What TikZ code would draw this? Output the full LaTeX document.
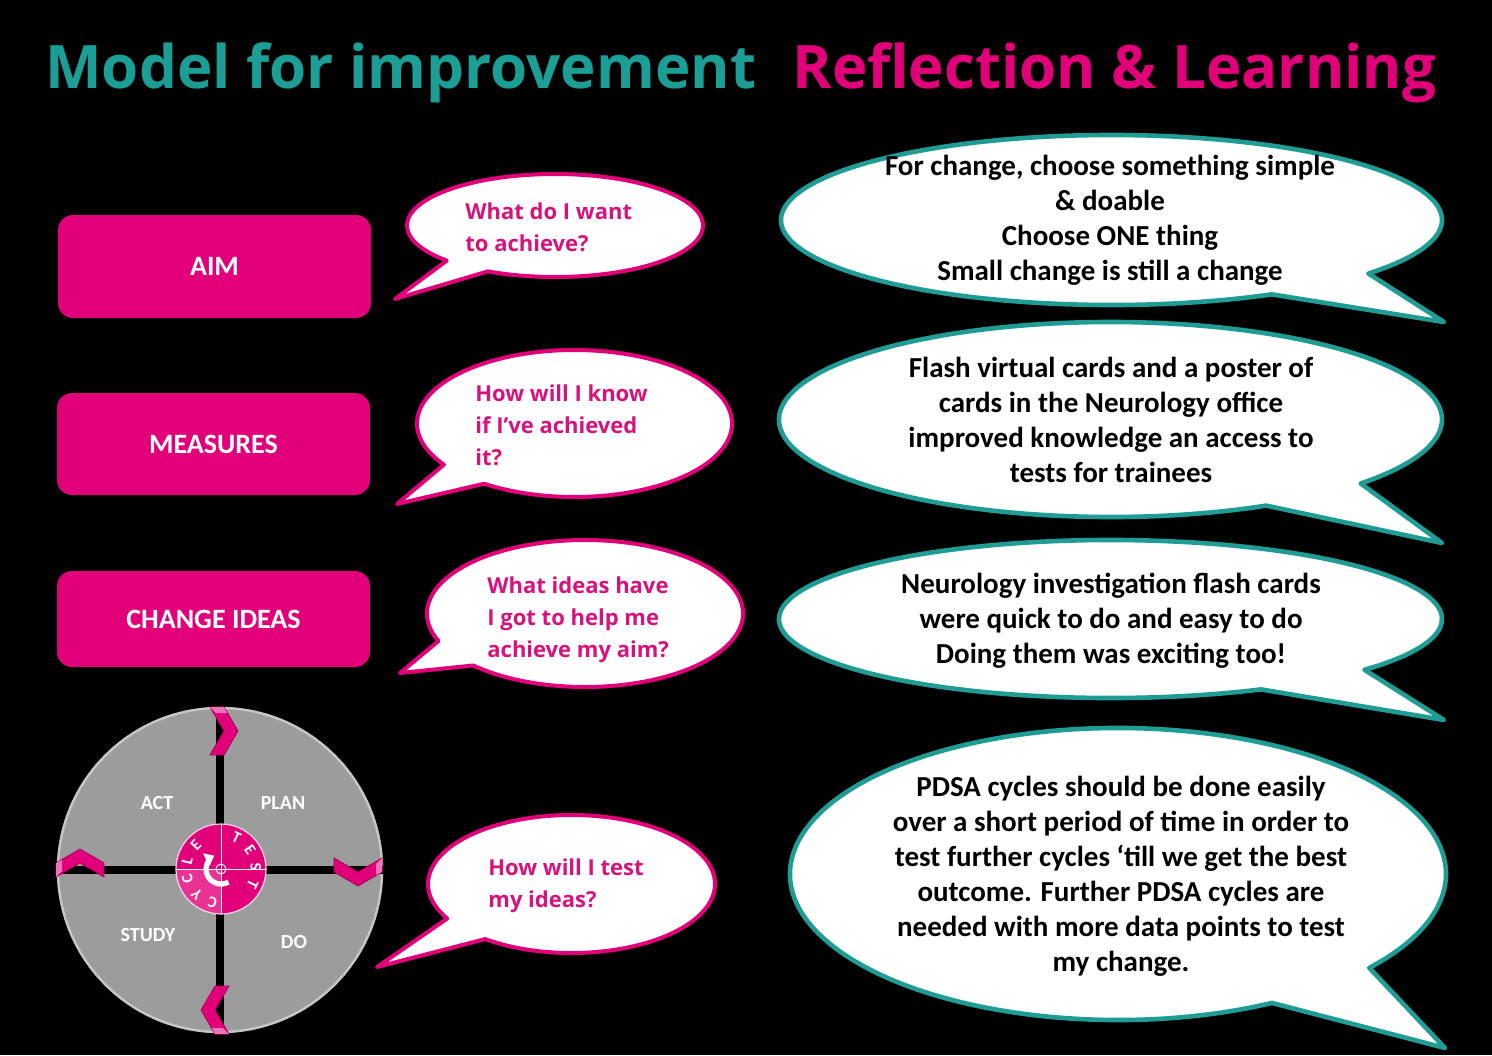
\documentclass[tikz,border=0pt]{standalone}
\usepackage{fontspec}
\setmainfont{Carlito}
\newfontfamily\titlefont{Open Sans}
\usetikzlibrary{arrows.meta}
\definecolor{pinkc}{HTML}{E2007A}
\definecolor{pinkt}{HTML}{D6137C}
\definecolor{tealc}{HTML}{1A9E96}
\definecolor{tealb}{HTML}{1F9C94}
\definecolor{wheelgray}{HTML}{9C9C9C}
\newcommand\speech[9]{\draw[#1] (#2,#3) ++(#6:#4 and #5) arc[start angle=#6, end angle=#7, x radius=#4, y radius=#5] -- (#8,#9) -- cycle;}
\newcommand\chev[3]{\begin{scope}[shift={(#1,#2)},rotate=#3]
  \fill[pinkc, draw=pinkc!75!black, line width=0.4pt] (-14,-24) -- (0,-24) -- (14,0) -- (0,24) -- (-14,24) -- (0,0) -- cycle;
  \fill[pinkc!55!white] (-14,-24) -- (0,-24) -- (3,-18) -- (-8,-18) -- cycle;
\end{scope}}
\begin{document}
\begin{tikzpicture}[x=0.5pt,y=-0.5pt,
  pinkbubble/.style={draw=pinkc, line width=2pt, fill=white, line join=round},
  tealbubble/.style={draw=tealb, line width=2.3pt, fill=white, line join=round},
  qtext/.style={anchor=base west, align=left, inner sep=0pt, text=pinkt, font=\titlefont\bfseries\fontsize{11}{16}\selectfont},
  atext/.style={anchor=center, align=center, inner sep=0pt, text=black, font=\bfseries\fontsize{14.5}{17.5}\selectfont},
  pinkbox/.style={fill=pinkc, rounded corners=7.5pt, minimum width=156.5pt, text=white, font=\bfseries\fontsize{14}{16}\selectfont},
  wlabel/.style={text=white, font=\bfseries\fontsize{10}{12}\selectfont},
  dletter/.style={text=white, inner sep=0pt, font=\bfseries\fontsize{8}{9}\selectfont}
]
\useasboundingbox (0,0) rectangle (1492,1055);
\fill[black] (0,0) rectangle (1492,1055);

% title
\node[anchor=base west, inner sep=0pt, text=tealc, font=\titlefont\bfseries\fontsize{30}{36}\selectfont] (t1) at (45,88) {Model for improvement};
\node[anchor=base west, inner sep=0pt, text=pinkc, font=\titlefont\bfseries\fontsize{30}{36}\selectfont] (t2) at (792,88) {Reflection \& Learning};

% pink boxes
\node[pinkbox, minimum height=51.5pt] (aim) at (214.5,266.5) {AIM};
\node[pinkbox, minimum height=51pt] (measures) at (213.5,444) {MEASURES};
\node[pinkbox, minimum height=48pt] (ideas) at (213.5,619) {CHANGE IDEAS};

% pink question bubbles
\speech{pinkbubble}{555}{225.5}{148}{51.5}{137}{477}{395}{299}
\speech{pinkbubble}{574.5}{423.5}{157.5}{73.5}{146}{485}{397}{504}
\speech{pinkbubble}{585}{613.5}{158}{73.5}{158}{495}{400}{673}
\speech{pinkbubble}{571.5}{884}{143.5}{69}{150}{487}{377}{967}
\node[qtext] (q1) at (465,251) {What do I want\\to achieve?};
\node[qtext] (q2) at (475,465) {How will I know\\if I’ve achieved\\it?};
\node[qtext] (q3) at (487,657) {What ideas have\\I got to help me\\achieve my aim?};
\node[qtext] (q4) at (488,907) {How will I test\\my ideas?};

% teal answer bubbles
\speech{tealbubble}{1111.5}{220}{330.5}{85}{61}{399}{1444}{322}
\speech{tealbubble}{1110.5}{419.5}{331.5}{97.5}{62}{401}{1442}{543}
\speech{tealbubble}{1110.5}{619}{331.5}{79}{63}{400}{1444}{720}
\speech{tealbubble}{1118}{874}{328}{146}{62}{400}{1445}{1048}
\node[atext] (a1) at (1110,220) {For change, choose something simple\\\& doable\\Choose ONE thing\\Small change is still a change};
\node[atext] (a2) at (1111,420) {Flash virtual cards and a poster of\\cards in the Neurology office\\improved knowledge an access to\\tests for trainees};
\node[atext] (a3) at (1111,621) {Neurology investigation flash cards\\were quick to do and easy to do\\Doing them was exciting too!};
\node[atext] (a4) at (1121,876) {PDSA cycles should be done easily\\over a short period of time in order to\\test further cycles ‘till we get the best\\outcome. Further PDSA cycles are\\needed with more data points to test\\my change.};

% PDSA wheel
\fill[wheelgray] (220,870) circle[radius=163];
\draw[gray!45, line width=1.2pt] (220,870) circle[radius=162];
\draw[black, line width=4pt] (220,707) -- (220,1033);
\draw[black, line width=4pt] (57,870) -- (383,870);
\node[wlabel] (act) at (157,803) {ACT};
\node[wlabel] (plan) at (283,803) {PLAN};
\node[wlabel] (study) at (148,935) {STUDY};
\node[wlabel] (do) at (294,942) {DO};
\chev{224}{731}{0}
\chev{358}{872}{-90}
\chev{80}{863}{90}
\chev{215}{1010}{180}

% centre disk
\fill[pinkc] (221,869) circle[radius=45];
\fill[pinkc!80!white] (221,869) -- (176,869) arc[start angle=180, end angle=90, radius=45] -- cycle;
\draw[white, line width=0.5pt] (221,824) -- (221,914);
\draw[white, line width=0.5pt] (176,869) -- (266,869);
\draw[white!85!pinkc, line width=0.6pt] (221,869) circle[radius=45];
\draw[white, line width=2.6pt, -{Triangle[length=4.5pt,width=7pt]}] (221,869) ++(60:15) arc[start angle=60, end angle=243, radius=15];
\draw[white, line width=0.5pt] (221,869) circle[radius=5];
\foreach \a/\l [count=\i] in {64/T,34/E,4/S,-26/T} {
  \node[dletter, rotate=\a-90] (ts\i) at ({221+35*cos(\a)},{869-35*sin(\a)}) {\l};
}
\foreach \a/\l [count=\i] in {-104/C,-134/Y,-164/C,166/L,136/E} {
  \node[dletter, rotate=\a-90] (cy\i) at ({221+35*cos(\a)},{869-35*sin(\a)}) {\l};
}
\end{tikzpicture}
\end{document}
